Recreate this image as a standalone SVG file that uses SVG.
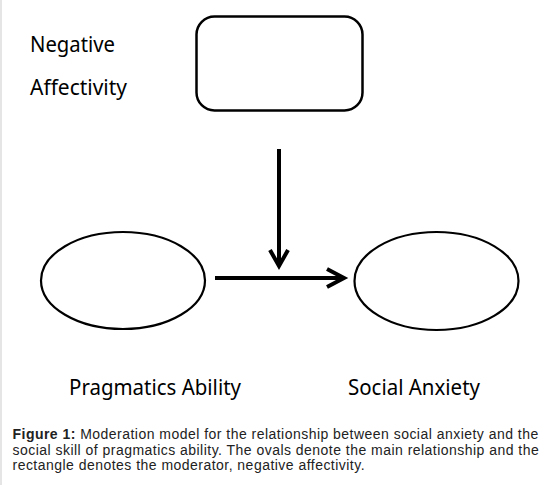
<svg xmlns="http://www.w3.org/2000/svg" width="543" height="485" viewBox="0 0 543 485">
  <defs>
    <style>
      .node { fill: #ffffff; stroke: #000000; }
      .lbl { font-family: "Noto Sans", "Open Sans", sans-serif; font-size: 21.5px; fill: #000000; }
      .cap { font-family: "Liberation Sans", Arial, sans-serif; font-size: 14px; letter-spacing: 0.47px; fill: #222222; }
      .conn { stroke: #000000; stroke-width: 4; fill: none; }
      .head { stroke: #000000; stroke-width: 4; fill: none; stroke-linecap: butt; stroke-linejoin: miter; }
    </style>
  </defs>
  <rect x="0" y="0" width="543" height="485" fill="#ffffff"/>
  <line x1="1" y1="0" x2="1" y2="485" stroke="#dddddd" stroke-width="1.5"/>

  <g id="negative-affectivity">
    <rect class="node" x="196.5" y="16.5" width="166" height="94" rx="18" ry="18" stroke-width="2.5"/>
    <text class="lbl" x="30" y="52" textLength="85" lengthAdjust="spacingAndGlyphs">Negative</text>
    <text class="lbl" x="30" y="94.5" textLength="97" lengthAdjust="spacingAndGlyphs">Affectivity</text>
  </g>

  <g id="pragmatics-ability">
    <ellipse class="node" cx="123" cy="280.5" rx="82" ry="48.5" stroke-width="2.2"/>
    <text class="lbl" x="69" y="395" textLength="172" lengthAdjust="spacingAndGlyphs">Pragmatics Ability</text>
  </g>

  <g id="social-anxiety">
    <ellipse class="node" cx="436.5" cy="281" rx="82" ry="49" stroke-width="2.2"/>
    <text class="lbl" x="348" y="395" textLength="132" lengthAdjust="spacingAndGlyphs">Social Anxiety</text>
  </g>

  <g id="connectors">
    <line class="conn" x1="215" y1="278" x2="343" y2="278"/>
    <polyline class="head" points="327,269 344,278 327,287"/>
    <line class="conn" x1="279" y1="149" x2="279" y2="264"/>
    <polyline class="head" points="270,250 279,266 288,250"/>
  </g>

  <g id="caption">
    <text class="cap" x="12.5" y="439"><tspan font-weight="bold">Figure 1:</tspan> Moderation model for the relationship between social anxiety and the</text>
    <text class="cap" x="12.5" y="454.5">social skill of pragmatics ability. The ovals denote the main relationship and the</text>
    <text class="cap" x="12.5" y="470">rectangle denotes the moderator, negative affectivity.</text>
  </g>
</svg>
